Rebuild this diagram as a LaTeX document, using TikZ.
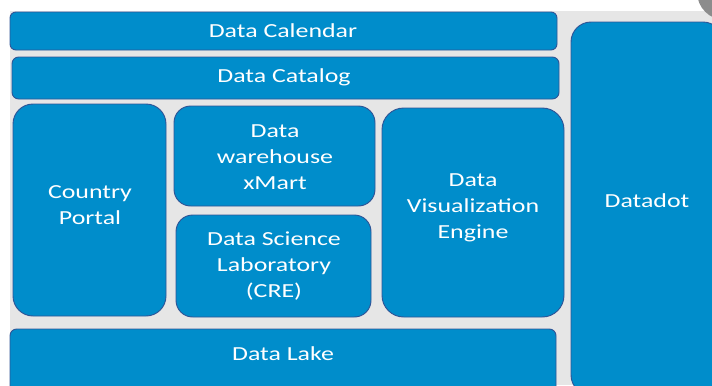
\documentclass[tikz,border=0pt]{standalone}
\usepackage{fontspec}
\setmainfont[FakeStretch=1.3]{Carlito}
\usetikzlibrary{fit}
\definecolor{boxblue}{RGB}{0,141,203}
\definecolor{edgeblue}{RGB}{47,85,151}
\definecolor{panel}{RGB}{230,230,230}

\begin{document}
\begin{tikzpicture}[x=0.03cm, y=-0.03cm, b/.style={draw=edgeblue, line width=0.8pt, fill=boxblue, inner sep=0pt}, t/.style={text=white, align=center, inner sep=0pt, font=\fontsize{17}{22}\selectfont}]
		\useasboundingbox (0,0) rectangle (712,385);
		\clip (0,0) rectangle (712,385);
		\fill[panel] (10,11) rectangle (712,385);
		\fill[gray!90] (725,-8) circle (0.84cm);

		\node[b, rounded corners=0.18cm, fit={(10,12) (557,50)}] (cal) {};
		\node[t] (cal_label) at (283,31) {Data Calendar};
		\node[b, rounded corners=0.2cm, fit={(12,57) (559,99)}] (cat) {};
		\node[t] (cat_label) at (284,77) {Data Catalog};
		\node[b, rounded corners=0.6cm, fit={(13,104) (166,316)}] (portal) {};
		\node[t] (portal_label) at (90,205) {Country\\Portal};
		\node[b, rounded corners=0.5cm, fit={(174,106) (375,206)}] (xmart) {};
		\node[t] (xmart_label) at (275,157) {Data\\warehouse\\xMart};
		\node[b, rounded corners=0.5cm, fit={(176,215) (371,317)}] (lab) {};
		\node[t] (lab_label) at (274,266) {Data Science\\Laboratory\\(CRE)};
		\node[b, rounded corners=0.65cm, fit={(382,108) (564,317)}] (viz) {};
		\node[t] (viz_label) at (473,208) {Data\\Visualization\\Engine};
		\node[b, rounded corners=0.2cm, fit={(10,329) (556,395)}] (lake) {};
		\node[t] (lake_label) at (283,354) {Data Lake};
		\node[b, rounded corners=0.6cm, fit={(571,22) (723,395)}] (dot) {};
		\node[t] (dot_label) at (647,201) {Datadot};
	\end{tikzpicture}
\end{document}
